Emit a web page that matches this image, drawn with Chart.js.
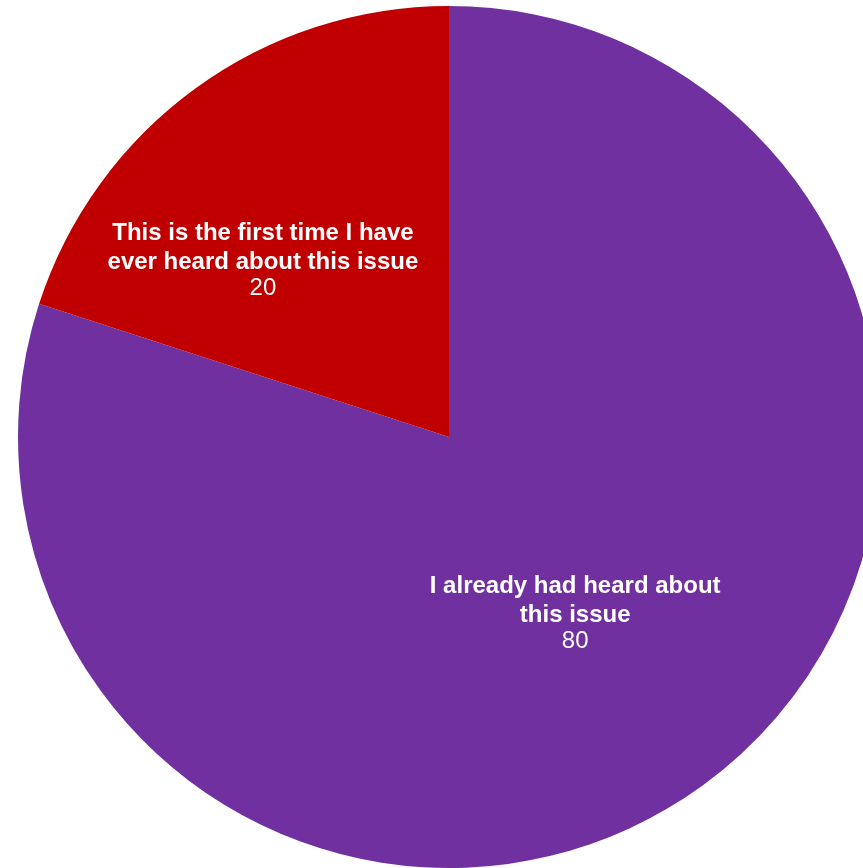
<!DOCTYPE html>
<html>
<head>
<meta charset="utf-8">
<script src="https://cdn.jsdelivr.net/npm/chart.js@4.4.0/dist/chart.umd.min.js"></script>
<style>
  html, body { margin: 0; padding: 0; background: #fff; overflow: hidden; }
  #wrap { width: 898px; height: 868px; }
</style>
</head>
<body>
<div id="wrap"><canvas id="pieChart" width="898" height="868"></canvas></div>
<script>
// data
const labels = [
  ['I already had heard about', 'this issue'],
  ['This is the first time I have', 'ever heard about this issue']
];
const values = [80, 20];
const colors = ['#7030A0', '#C00000'];

// where each label sits inside its slice (fraction of angle, fraction of radius)
const labelPlace = [
  { a: 0.505, r: 0.516 },
  { a: 0.338, r: 0.584 }
];

const sliceLabels = {
  id: 'sliceLabels',
  afterDatasetsDraw(chart) {
    const ctx = chart.ctx;
    const meta = chart.getDatasetMeta(0);
    ctx.save();
    ctx.fillStyle = '#ffffff';
    ctx.textAlign = 'center';
    ctx.textBaseline = 'alphabetic';
    meta.data.forEach((arc, i) => {
      const p = arc.getProps(['x', 'y', 'startAngle', 'endAngle', 'outerRadius'], true);
      const ang = p.startAngle + (p.endAngle - p.startAngle) * labelPlace[i].a;
      const rad = p.outerRadius * labelPlace[i].r;
      const cx = p.x + Math.cos(ang) * rad;
      const cy = p.y + Math.sin(ang) * rad;
      const lines = labels[i];
      const lh = 29;
      const numGap = 26;
      const span = (lines.length - 1) * lh + numGap;
      let y = cy - span / 2;
      ctx.font = 'bold 24px "Liberation Sans", Arial, sans-serif';
      lines.forEach((line, k) => {
        ctx.fillText(line, cx, y);
        if (k < lines.length - 1) y += lh;
      });
      ctx.font = '24px "Liberation Sans", Arial, sans-serif';
      ctx.fillText(String(values[i]), cx, y + numGap);
    });
    ctx.restore();
  }
};

const ctx = document.getElementById('pieChart').getContext('2d');
const pieChart = new Chart(ctx, {
  type: 'pie',
  data: {
    labels: labels.map(l => l.join(' ')),
    datasets: [{
      data: values,
      backgroundColor: colors,
      borderWidth: 0
    }]
  },
  options: {
    responsive: false,
    animation: false,
    layout: { padding: { top: 6 } },
    plugins: {
      legend: { display: false },
      tooltip: { enabled: false }
    }
  },
  plugins: [sliceLabels]
});
</script>
</body>
</html>
